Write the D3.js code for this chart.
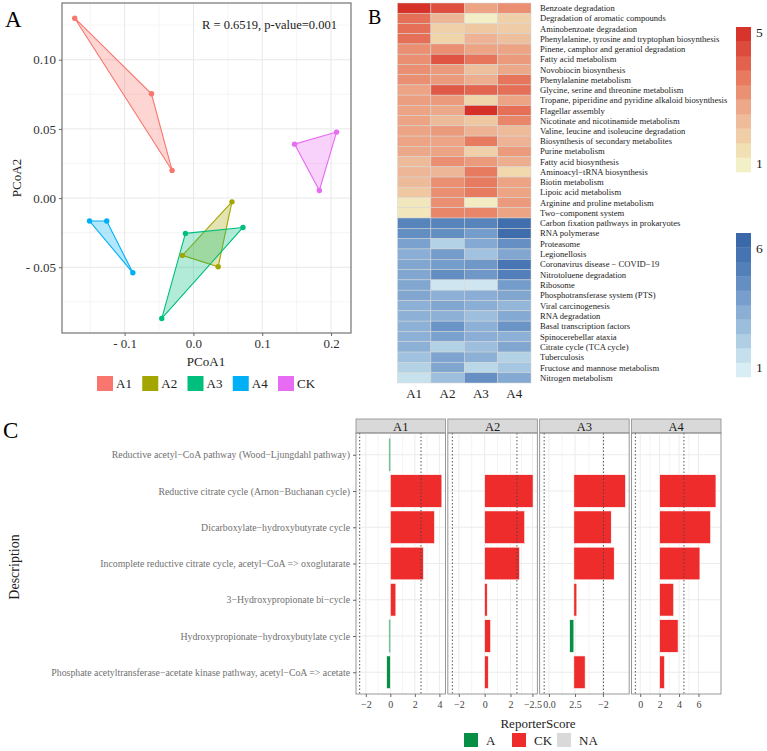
<!DOCTYPE html>
<html>
<head>
<meta charset="utf-8">
<script src="https://cdn.jsdelivr.net/npm/d3@7"></script>
<style>
  body { margin: 0; background: #fff; }
  svg { display: block; font-family: "Liberation Serif", "DejaVu Serif", serif; }
  svg text { font-family: "Liberation Serif", "DejaVu Serif", serif; }
</style>
</head>
<body>
<svg id="fig" width="767" height="751"></svg>
<script>
// ---------- panel A : PCoA ----------
const groups = ["A1", "A2", "A3", "A4", "CK"];
const groupColors = ["#F8766D", "#A3A500", "#00BF7D", "#00B0F6", "#E76BF3"];
const sampleGroup = ["A1","A1","A1","A2","A2","A2","A3","A3","A3","A4","A4","A4","CK","CK","CK"];
const pcoa1 = [-0.1725, -0.061, -0.031, 0.056, -0.016, 0.036, -0.0116, 0.072, -0.046, -0.151, -0.126, -0.088, 0.147, 0.208, 0.183];
const pcoa2 = [0.130, 0.0754, 0.020, -0.0027, -0.0414, -0.0496, -0.0255, -0.0212, -0.087, -0.0166, -0.0166, -0.054, 0.039, 0.0477, 0.0055];
const pcoaXTicks = [-0.1, 0, 0.1, 0.2];
const pcoaYTicks = [-0.05, 0, 0.05, 0.1];
const statText = "R = 0.6519, p-value=0.001";

// ---------- panel B : heatmap ----------
const heatCols = ["A1", "A2", "A3", "A4"];
const upPathways = ["Benzoate degradation", "Degradation of aromatic compounds", "Aminobenzoate degradation",
  "Phenylalanine, tyrosine and tryptophan biosynthesis", "Pinene, camphor and geraniol degradation",
  "Fatty acid metabolism", "Novobiocin biosynthesis", "Phenylalanine metabolism",
  "Glycine, serine and threonine metabolism", "Tropane, piperidine and pyridine alkaloid biosynthesis",
  "Flagellar assembly", "Nicotinate and nicotinamide metabolism", "Valine, leucine and isoleucine degradation",
  "Biosynthesis of secondary metabolites", "Purine metabolism", "Fatty acid biosynthesis",
  "Aminoacyl\u2212tRNA biosynthesis", "Biotin metabolism", "Lipoic acid metabolism",
  "Arginine and proline metabolism", "Two\u2212component system"];
const upValues = [
  [5.0, 4.4, 2.8, 3.2], [3.8, 2.4, 1.0, 1.8], [3.8, 1.8, 2.0, 1.9], [3.8, 1.7, 2.5, 2.2],
  [3.2, 3.2, 2.8, 2.8], [3.2, 4.3, 3.7, 3.0], [3.2, 3.0, 2.2, 2.7], [3.2, 3.0, 2.6, 3.7],
  [2.8, 4.2, 4.0, 3.8], [2.9, 3.0, 1.7, 2.8], [2.8, 2.7, 5.0, 3.8], [2.8, 2.3, 2.0, 3.4],
  [2.8, 3.0, 2.5, 2.3], [2.8, 2.8, 3.6, 2.5], [2.7, 2.8, 1.8, 3.0], [2.3, 3.2, 3.0, 2.6],
  [2.4, 2.4, 3.6, 1.6], [2.3, 3.2, 3.6, 2.8], [2.0, 3.2, 3.6, 2.8], [1.2, 3.2, 1.1, 3.0],
  [1.2, 3.4, 3.4, 2.8]];
const downPathways = ["Carbon fixation pathways in prokaryotes", "RNA polymerase", "Proteasome", "Legionellosis",
  "Coronavirus disease \u2212 COVID\u221219", "Nitrotoluene degradation", "Ribosome",
  "Phosphotransferase system (PTS)", "Viral carcinogenesis", "RNA degradation",
  "Basal transcription factors", "Spinocerebellar ataxia", "Citrate cycle (TCA cycle)", "Tuberculosis",
  "Fructose and mannose metabolism", "Nitrogen metabolism"];
const downValues = [
  [5.0, 5.0, 5.0, 6.0], [4.6, 4.6, 4.0, 6.1], [3.8, 2.0, 3.5, 4.5], [3.3, 4.0, 2.6, 3.6],
  [3.6, 4.0, 4.2, 5.6], [3.6, 4.6, 4.2, 5.2], [3.6, 1.2, 1.2, 4.0], [3.6, 3.2, 3.3, 3.6],
  [3.2, 3.6, 3.3, 3.0], [3.2, 3.2, 2.7, 3.5], [3.2, 4.3, 3.2, 4.3], [3.2, 3.8, 3.3, 3.2],
  [3.2, 2.0, 2.7, 3.6], [2.6, 3.7, 3.2, 2.0], [2.0, 3.6, 1.8, 2.4], [1.4, 2.7, 4.5, 3.5]];
const upLegendTicks = [1, 5];
const downLegendTicks = [1, 6];

// ---------- panel C : ReporterScore ----------
const facets = ["A1", "A2", "A3", "A4"];
const modules = ["Reductive acetyl\u2212CoA pathway (Wood\u2212Ljungdahl pathway)",
  "Reductive citrate cycle (Arnon\u2212Buchanan cycle)", "Dicarboxylate\u2212hydroxybutyrate cycle",
  "Incomplete reductive citrate cycle, acetyl\u2212CoA => oxoglutarate", "3\u2212Hydroxypropionate bi\u2212cycle",
  "Hydroxypropionate\u2212hydroxybutylate cycle",
  "Phosphate acetyltransferase\u2212acetate kinase pathway, acetyl\u2212CoA => acetate"];
const scoreA1 = [-0.12, 4.2, 3.6, 2.7, 0.45, -0.12, -0.3];
const scoreA2 = [null, 3.75, 3.1, 2.7, 0.2, 0.46, 0.28];
const scoreA3 = [null, 4.35, 3.15, 3.4, 0.25, -0.35, 0.95];
const scoreA4 = [null, 5.8, 5.25, 4.15, 1.45, 1.9, 0.5];
const facetDomains = [[-2.8, 4.5], [-2.85, 4.08], [-2.88, 4.66], [-2.9, 6.32]];
const facetTickValues = [[-2, 0, 2, 4], [-2, 0, 2, 3.7], [-2.1, 0.1, 2.45], [-2, 0, 2, 4]];
const facetTickLabels = [["\u22122", "0", "2", "4"], ["\u22122", "0", "2", "\u22122.5"], ["0.0", "2.5", "\u22122"], ["0", "2", "4", "6"]];
const cutoff = 2.5;
const scoreGroups = ["A", "CK", "NA"];
const scoreColors = ["#078F45", "#EE2C2C", "#D9D9D9"];

const svg = d3.select("#fig");

// panel letters
svg.append("text").attr("x", 5).attr("y", 27).attr("font-size", 23).text("A");
svg.append("text").attr("x", 368).attr("y", 24).attr("font-size", 20).text("B");
svg.append("text").attr("x", 3).attr("y", 438).attr("font-size", 23).text("C");

function styleAxis(a, size, color) {
  a.attr("font-family", null);
  a.select(".domain").remove();
  a.selectAll("line").attr("stroke", "#666");
  a.selectAll("text").attr("font-size", size).attr("fill", color);
}

// ================= Panel A =================
(function () {
  const x = d3.scaleLinear().domain([-0.191, 0.229]).range([62, 351]);
  const y = d3.scaleLinear().domain([-0.0975, 0.141]).range([333, 3]);
  const color = d3.scaleOrdinal().domain(groups).range(groupColors);
  const g = svg.append("g");

  // grid
  const xMinor = [-0.15, -0.05, 0.05, 0.15];
  const yMinor = [-0.075, -0.025, 0.025, 0.075, 0.125];
  g.selectAll(".xmin").data(xMinor).join("line")
    .attr("x1", d => x(d)).attr("x2", d => x(d)).attr("y1", 3).attr("y2", 333)
    .attr("stroke", "#f3f3f3").attr("stroke-width", 0.8);
  g.selectAll(".ymin").data(yMinor).join("line")
    .attr("y1", d => y(d)).attr("y2", d => y(d)).attr("x1", 62).attr("x2", 351)
    .attr("stroke", "#f3f3f3").attr("stroke-width", 0.8);
  g.selectAll(".xmaj").data(pcoaXTicks).join("line")
    .attr("x1", d => x(d)).attr("x2", d => x(d)).attr("y1", 3).attr("y2", 333)
    .attr("stroke", "#e8e8e8").attr("stroke-width", 1);
  g.selectAll(".ymaj").data(pcoaYTicks).join("line")
    .attr("y1", d => y(d)).attr("y2", d => y(d)).attr("x1", 62).attr("x2", 351)
    .attr("stroke", "#e8e8e8").attr("stroke-width", 1);

  // hulls
  const samples = pcoa1.map((v, i) => ({ x: v, y: pcoa2[i], g: sampleGroup[i] }));
  groups.forEach(grp => {
    const pts = samples.filter(s => s.g === grp).map(s => [x(s.x), y(s.y)]);
    const hull = d3.polygonHull(pts);
    g.append("path").attr("d", "M" + hull.join("L") + "Z")
      .attr("fill", color(grp)).attr("fill-opacity", 0.3)
      .attr("stroke", color(grp)).attr("stroke-width", 1.1);
  });
  g.selectAll("circle").data(samples).join("circle")
    .attr("cx", d => x(d.x)).attr("cy", d => y(d.y)).attr("r", 2.7)
    .attr("fill", d => color(d.g));

  // frame
  g.append("rect").attr("x", 62).attr("y", 3).attr("width", 289).attr("height", 330)
    .attr("fill", "none").attr("stroke", "#666").attr("stroke-width", 1.1);

  const ax = g.append("g").attr("transform", "translate(0,333)")
    .call(d3.axisBottom(x).tickValues(pcoaXTicks).tickSize(3).tickPadding(3)
      .tickFormat(d => d < 0 ? "- " + d3.format(".1f")(-d) : d3.format(".1f")(d)));
  const ay = g.append("g").attr("transform", "translate(62,0)")
    .call(d3.axisLeft(y).tickValues(pcoaYTicks).tickSize(3).tickPadding(3)
      .tickFormat(d => d < 0 ? "- " + d3.format(".2f")(-d) : d3.format(".2f")(d)));
  styleAxis(ax, 13, "#333");
  styleAxis(ay, 13, "#333");
  g.append("text").attr("x", 206).attr("y", 366).attr("text-anchor", "middle")
    .attr("font-size", 13).attr("fill", "#222").text("PCoA1");
  g.append("text").attr("transform", "translate(21,178) rotate(-90)").attr("text-anchor", "middle")
    .attr("font-size", 13).attr("fill", "#222").text("PCoA2");
  g.append("text").attr("x", 337).attr("y", 29).attr("text-anchor", "end")
    .attr("font-size", 12.5).attr("fill", "#222").text(statText);

  // legend
  const legX = d3.scalePoint().domain(groups).range([97, 278]);
  const lg = g.selectAll(".leg").data(groups).join("g")
    .attr("transform", d => `translate(${legX(d)},376)`);
  lg.append("rect").attr("width", 16).attr("height", 15).attr("fill", d => color(d));
  lg.append("text").attr("x", 19).attr("y", 12).attr("font-size", 13).attr("fill", "#222").text(d => d);
})();

// ================= Panel B =================
(function () {
  const g = svg.append("g");
  const x = d3.scaleBand().domain(heatCols).range([397.5, 531]);
  const upY = d3.scaleBand().domain(upPathways).range([3, 218]);
  const downY = d3.scaleBand().domain(downPathways).range([218, 383]);
  const upColor = d3.scaleLinear().domain([0.73, 1.5, 2.5, 3.5, 4.3, 5.15])
    .range(["#F4F8D0", "#F1DCB0", "#EDB394", "#E88063", "#DF5443", "#D42A24"]).clamp(true);
  const downColor = d3.scaleLinear().domain([0.6, 1.5, 2.5, 3.5, 4.5, 5.5, 6.65])
    .range(["#E2F3F8", "#C5E0EC", "#A3C4E0", "#84A9D2", "#6690C4", "#4A77B4", "#3563A5"]).clamp(true);

  function block(names, values, yScale, colorScale) {
    names.forEach((nm, i) => {
      g.selectAll(null).data(values[i]).join("rect")
        .attr("x", (d, j) => x(heatCols[j])).attr("y", yScale(nm))
        .attr("width", x.bandwidth()).attr("height", yScale.bandwidth())
        .attr("fill", d => colorScale(d)).attr("stroke", "#d6d6d6").attr("stroke-width", 0.5);
      g.append("text").attr("x", 540).attr("y", yScale(nm) + yScale.bandwidth() / 2 + 3)
        .attr("font-size", 8.6).attr("fill", "#222").text(nm);
    });
  }
  block(upPathways, upValues, upY, upColor);
  block(downPathways, downValues, downY, downColor);

  g.selectAll(".colLab").data(heatCols).join("text")
    .attr("x", d => x(d) + x.bandwidth() / 2).attr("y", 398).attr("text-anchor", "middle")
    .attr("font-size", 13).attr("fill", "#222").text(d => d);

  // color legends
  function legend(colorScale, domain, range, ticks) {
    const ly = d3.scaleLinear().domain(domain).range(range);
    const bands = d3.range(10).map(k => domain[0] + (domain[1] - domain[0]) * (k + 0.5) / 10);
    const h = Math.abs(range[1] - range[0]) / 10;
    g.selectAll(null).data(bands).join("rect")
      .attr("x", 736).attr("y", d => ly(d) - h / 2).attr("width", 15).attr("height", h + 0.3)
      .attr("fill", d => colorScale(d));
    g.selectAll(null).data(ticks).join("text")
      .attr("x", 756).attr("y", d => ly(d) + 5).attr("font-size", 13.5).attr("fill", "#222").text(d => d);
  }
  legend(upColor, [0.73, 5.15], [172, 27], upLegendTicks);
  legend(downColor, [0.6, 6.65], [377, 233], downLegendTicks);
})();

// ================= Panel C =================
(function () {
  const g = svg.append("g");
  const fx = d3.scaleBand().domain(facets).range([356, 721]).paddingInner(0.025);
  const y = d3.scalePoint().domain(modules).range([433, 694]).padding(0.6);
  const barH = y.step() * 0.9;
  const fill = d3.scaleOrdinal().domain(scoreGroups).range(scoreColors);
  const scores = [scoreA1, scoreA2, scoreA3, scoreA4];

  facets.forEach((f, k) => {
    const x0 = fx(f), w = fx.bandwidth();
    const x = d3.scaleLinear().domain(facetDomains[k]).range([x0, x0 + w]);
    const fg = g.append("g");
    // strip
    fg.append("rect").attr("x", x0).attr("y", 419).attr("width", w).attr("height", 14)
      .attr("fill", "#D9D9D9").attr("stroke", "#8c8c8c").attr("stroke-width", 0.8);
    fg.append("text").attr("x", x0 + w / 2).attr("y", 431).attr("text-anchor", "middle")
      .attr("font-size", 12.5).attr("fill", "#1a1a1a").text(f);
    // grid
    const ticks = facetTickValues[k];
    const minor = ticks.slice(1).map((t, i) => (t + ticks[i]) / 2);
    fg.selectAll(null).data(minor).join("line")
      .attr("x1", d => x(d)).attr("x2", d => x(d)).attr("y1", 433).attr("y2", 694)
      .attr("stroke", "#f4f4f4");
    fg.selectAll(null).data(ticks).join("line")
      .attr("x1", d => x(d)).attr("x2", d => x(d)).attr("y1", 433).attr("y2", 694)
      .attr("stroke", "#ebebeb");
    fg.selectAll(null).data(modules).join("line")
      .attr("x1", x0).attr("x2", x0 + w).attr("y1", d => y(d)).attr("y2", d => y(d))
      .attr("stroke", "#ebebeb");
    // bars
    const rows = modules.map((m, i) => ({ m, v: scores[k][i] })).filter(d => d.v !== null);
    fg.selectAll(null).data(rows).join("rect")
      .attr("x", d => x(Math.min(0, d.v))).attr("y", d => y(d.m) - barH / 2)
      .attr("width", d => Math.abs(x(d.v) - x(0))).attr("height", barH)
      .attr("fill", d => fill(d.v < 0 ? "A" : "CK"))
      .attr("fill-opacity", d => Math.abs(x(d.v) - x(0)) < 2 ? 0.55 : 1)
      .attr("stroke", "#fff").attr("stroke-width", d => Math.abs(x(d.v) - x(0)) < 2 ? 0 : 0.6);
    // cutoffs
    fg.selectAll(null).data([-cutoff, cutoff]).join("line")
      .attr("x1", d => x(d)).attr("x2", d => x(d)).attr("y1", 433).attr("y2", 694)
      .attr("stroke", "#444").attr("stroke-dasharray", "1.5,2").attr("stroke-width", 0.9);
    // frame
    fg.append("rect").attr("x", x0).attr("y", 433).attr("width", w).attr("height", 261)
      .attr("fill", "none").attr("stroke", "#8c8c8c").attr("stroke-width", 0.9);
    // x axis
    const ax = fg.append("g").attr("transform", "translate(0,694)")
      .call(d3.axisBottom(x).tickValues(ticks).tickSize(3).tickPadding(4)
        .tickFormat((d, i) => facetTickLabels[k][i]));
    styleAxis(ax, 10, "#444");
  });

  // y axis
  const ay = g.append("g").attr("transform", "translate(356,0)")
    .call(d3.axisLeft(y).tickSize(3).tickPadding(3));
  styleAxis(ay, 9.8, "#707070");

  g.append("text").attr("transform", "translate(19,567) rotate(-90)").attr("text-anchor", "middle")
    .attr("font-size", 14).attr("fill", "#222").text("Description");
  g.append("text").attr("x", 538).attr("y", 728).attr("text-anchor", "middle")
    .attr("font-size", 13).attr("fill", "#222").text("ReporterScore");

  // legend
  const lx = d3.scaleOrdinal().domain(scoreGroups).range([464, 512, 557]);
  const lg = g.selectAll(".cleg").data(scoreGroups).join("g")
    .attr("transform", d => `translate(${lx(d)},733)`);
  lg.append("rect").attr("width", 14).attr("height", 14).attr("fill", d => fill(d));
  lg.append("text").attr("x", 22).attr("y", 12).attr("font-size", 13).attr("fill", "#222").text(d => d);
})();
</script>
</body>
</html>
